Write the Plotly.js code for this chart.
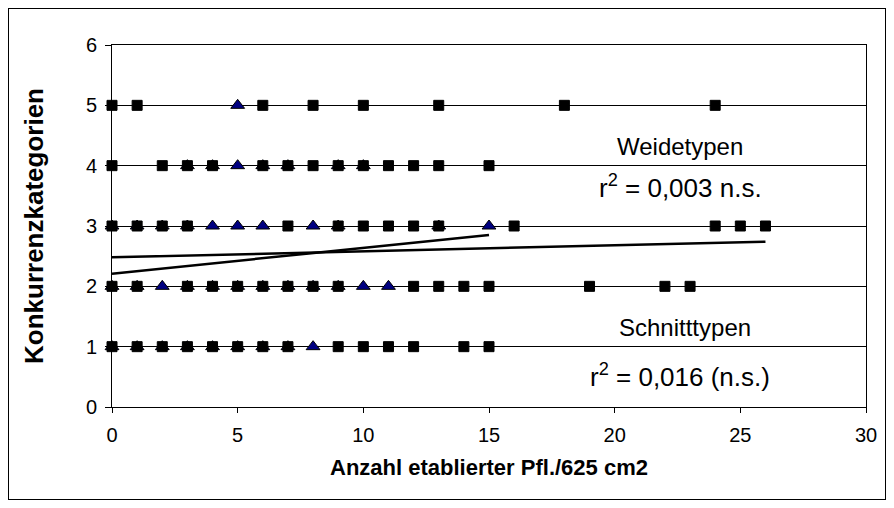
<!DOCTYPE html>
<html>
<head>
<meta charset="utf-8">
<script src="https://cdn.plot.ly/plotly-3.0.1.min.js"></script>
<style>
  html, body { margin: 0; padding: 0; background: #fff; }
  #wrap { position: relative; width: 894px; height: 508px; }
  #chart { width: 894px; height: 508px; }
  #frame { position: absolute; left: 8px; top: 8px; width: 878px; height: 492px;
           border: 1px solid #000; pointer-events: none; box-sizing: border-box; }
</style>
</head>
<body>
<div id="wrap">
  <div id="chart"></div>
  <div id="frame"></div>
</div>
<script>
// squares per Konkurrenzkategorie
const squaresX5 = [0, 1, 6, 8, 10, 13, 18, 24];
const squaresX4 = [0, 2, 3, 4, 6, 7, 8, 9, 10, 11, 12, 13, 15];
const squaresX3 = [0, 1, 2, 3, 7, 9, 10, 11, 12, 13, 16, 24, 25, 26];
const squaresX2 = [0, 1, 3, 4, 5, 6, 7, 8, 9, 12, 13, 14, 15, 19, 22, 23];
const squaresX1 = [0, 1, 2, 3, 4, 5, 6, 7, 9, 10, 11, 12, 14, 15];

// triangles per Konkurrenzkategorie
const trianglesX5 = [5];
const trianglesX4 = [3, 4, 5, 6, 7, 9, 10];
const trianglesX3 = [0, 1, 2, 3, 4, 5, 6, 8, 9, 13, 15];
const trianglesX2 = [0, 1, 2, 3, 4, 5, 6, 7, 8, 9, 10, 11];
const trianglesX1 = [0, 1, 2, 3, 4, 5, 6, 7, 8];

// trend lines: x range and y at the ends
const trendSquaresX = [0, 26];
const trendSquaresY = [2.48, 2.74];
const trendTrianglesX = [0, 15];
const trendTrianglesY = [2.21, 2.85];

const annotationTexts = ["Weidetypen", "r<sup>2</sup> = 0,003 n.s.", "Schnitttypen", "r<sup>2</sup> = 0,016 (n.s.)"];
const xTickVals = [0, 5, 10, 15, 20, 25, 30];
const yTickVals = [0, 1, 2, 3, 4, 5, 6];

function flatten(rows) {
  const xs = [], ys = [];
  rows.forEach(([arr, y]) => arr.forEach(x => { xs.push(x); ys.push(y); }));
  return { xs, ys };
}
const sq = flatten([[squaresX5, 5], [squaresX4, 4], [squaresX3, 3], [squaresX2, 2], [squaresX1, 1]]);
const tr = flatten([[trianglesX5, 5], [trianglesX4, 4], [trianglesX3, 3], [trianglesX2, 2], [trianglesX1, 1]]);

const traces = [
  { x: trendSquaresX, y: trendSquaresY, mode: 'lines', line: { color: '#000', width: 2.5 }, hoverinfo: 'skip', cliponaxis: false },
  { x: trendTrianglesX, y: trendTrianglesY, mode: 'lines', line: { color: '#000', width: 2.5 }, hoverinfo: 'skip', cliponaxis: false },
  { x: tr.xs, y: tr.ys, mode: 'markers', cliponaxis: false,
    marker: { symbol: 'triangle-up', size: 12, color: '#000080', line: { color: '#000', width: 1 } } },
  { x: sq.xs, y: sq.ys, mode: 'markers', cliponaxis: false,
    marker: { symbol: 'square', size: 10, color: '#000', line: { color: '#000', width: 1 } } }
];

const font = { family: 'Liberation Sans, Arial, sans-serif', color: '#000' };
const f = s => Object.assign({ size: s }, font);

const layout = {
  width: 894, height: 508,
  margin: { l: 112, r: 28, t: 45, b: 101 },
  paper_bgcolor: '#fff', plot_bgcolor: '#fff',
  showlegend: false,
  font: f(20),
  xaxis: {
    range: [0, 30], tickvals: xTickVals, ticks: 'outside', ticklen: 5, tickcolor: '#000',
    ticklabelstandoff: 5,
    showgrid: false, zeroline: false, showline: true, linecolor: '#000', linewidth: 1, mirror: true,
    tickfont: f(20),
    title: { text: '<b>Anzahl etablierter Pfl./625 cm2</b>', font: f(22), standoff: 14 }
  },
  yaxis: {
    range: [0, 6], tickvals: yTickVals, ticks: 'outside', ticklen: 6, tickcolor: '#000',
    ticklabelstandoff: 4,
    showgrid: true, gridcolor: '#000', gridwidth: 1, zeroline: false,
    showline: true, linecolor: '#000', linewidth: 1, mirror: true,
    tickfont: f(20),
    title: { text: '<b>Konkurrenzkategorien</b>', font: f(26), standoff: 34 }
  },
  annotations: [
    { text: annotationTexts[0], x: 22.6, y: 4.31, xref: 'x', yref: 'y', showarrow: false, font: f(24) },
    { text: annotationTexts[1], x: 22.6, y: 3.65, xref: 'x', yref: 'y', showarrow: false, font: f(26) },
    { text: annotationTexts[2], x: 22.8, y: 1.31, xref: 'x', yref: 'y', showarrow: false, font: f(24) },
    { text: annotationTexts[3], x: 22.6, y: 0.53, xref: 'x', yref: 'y', showarrow: false, font: f(26) }
  ]
};

Plotly.newPlot('chart', traces, layout, { displayModeBar: false, staticPlot: true });
</script>
</body>
</html>
